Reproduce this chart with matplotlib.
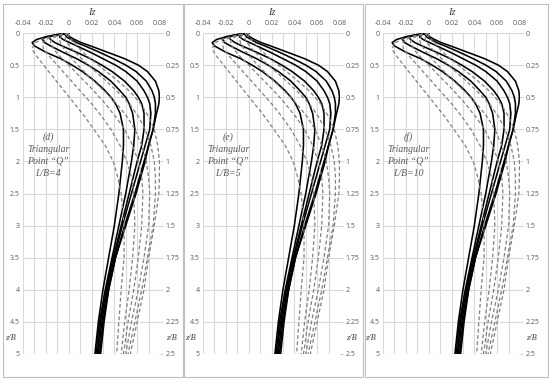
import matplotlib
matplotlib.use("Agg")
import matplotlib.pyplot as plt
from matplotlib.patches import Rectangle

# ---------------- data ----------------
x_ticks = [-0.04, -0.03, -0.02, -0.01, 0.0, 0.01, 0.02, 0.03, 0.04, 0.05, 0.06, 0.07, 0.08]
x_labels = ["-0.04", "", "-0.02", "", "0", "", "0.02", "", "0.04", "", "0.06", "", "0.08"]
zl_ticks = [0, 0.5, 1, 1.5, 2, 2.5, 3, 3.5, 4, 4.5, 5]
zl_labels = ["0", "0.5", "1", "1.5", "2", "2.5", "3", "3.5", "4", "4.5", "5"]
zr_ticks = [0, 0.25, 0.5, 0.75, 1, 1.25, 1.5, 1.75, 2, 2.25, 2.5]
zr_labels = ["0", "0.25", "0.5", "0.75", "1", "1.25", "1.5", "1.75", "2", "2.25", "2.5"]

# solid curves (left axis, z/B 0..5)
z_solid = [0, 0.03, 0.06, 0.1, 0.15, 0.2, 0.3, 0.4, 0.5, 0.6, 0.75, 0.9, 1.0, 1.1,
           1.25, 1.5, 1.75, 2.0, 2.5, 3.0, 3.5, 4.0, 4.5, 5.0]
S1 = [0, -0.010, -0.020, -0.028, -0.032, -0.030, -0.020, -0.007, 0.003, 0.012, 0.023, 0.032,
      0.037, 0.041, 0.045, 0.048, 0.048, 0.047, 0.044, 0.040, 0.035, 0.030, 0.026, 0.023]
S2 = [0, -0.012, -0.020, -0.023, -0.021, -0.016, -0.005, 0.007, 0.017, 0.026, 0.037, 0.045,
      0.050, 0.053, 0.056, 0.058, 0.057, 0.055, 0.050, 0.044, 0.038, 0.032, 0.027, 0.024]
S3 = [0, -0.012, -0.017, -0.016, -0.012, -0.006, 0.007, 0.019, 0.029, 0.038, 0.049, 0.057,
      0.061, 0.064, 0.066, 0.066, 0.064, 0.060, 0.053, 0.046, 0.039, 0.033, 0.028, 0.025]
S4 = [0, -0.007, -0.008, -0.005, 0.001, 0.007, 0.019, 0.030, 0.041, 0.050, 0.060, 0.066,
      0.069, 0.071, 0.072, 0.071, 0.067, 0.063, 0.055, 0.047, 0.040, 0.034, 0.029, 0.026]
S5 = [0, -0.003, -0.002, 0.002, 0.007, 0.014, 0.027, 0.039, 0.050, 0.059, 0.068, 0.073,
      0.075, 0.076, 0.076, 0.074, 0.070, 0.066, 0.058, 0.049, 0.041, 0.035, 0.030, 0.027]
S6 = [0, -0.001, 0.001, 0.005, 0.011, 0.019, 0.034, 0.049, 0.061, 0.069, 0.076, 0.079,
      0.0795, 0.079, 0.077, 0.074, 0.070, 0.067, 0.059, 0.050, 0.041, 0.035, 0.031, 0.028]

# dashed curves (right axis, z/B 0..2.5)
z_dash = [0, 0.02, 0.05, 0.08, 0.125, 0.17, 0.25, 0.35, 0.45, 0.55, 0.65, 0.75, 0.875,
          1.0, 1.125, 1.25, 1.5, 1.75, 2.0, 2.25, 2.5]
D1 = [0, -0.012, -0.024, -0.030, -0.032, -0.029, -0.022, -0.013, -0.004, 0.005, 0.014,
      0.022, 0.032, 0.039, 0.043, 0.046, 0.0485, 0.0485, 0.046, 0.044, 0.042]
D2 = [0, -0.011, -0.020, -0.023, -0.022, -0.018, -0.010, 0.000, 0.010, 0.020, 0.029,
      0.037, 0.045, 0.051, 0.055, 0.057, 0.058, 0.056, 0.053, 0.049, 0.046]
D3 = [0, -0.010, -0.015, -0.016, -0.013, -0.009, 0.000, 0.011, 0.022, 0.032, 0.041,
      0.049, 0.056, 0.061, 0.064, 0.065, 0.064, 0.061, 0.057, 0.052, 0.048]
D4 = [0, -0.006, -0.008, -0.007, -0.004, 0.000, 0.008, 0.019, 0.031, 0.042, 0.051,
      0.058, 0.064, 0.068, 0.070, 0.071, 0.070, 0.066, 0.061, 0.055, 0.050]
D5 = [0, -0.003, -0.003, -0.001, 0.003, 0.008, 0.017, 0.030, 0.042, 0.053, 0.061,
      0.067, 0.072, 0.075, 0.076, 0.076, 0.074, 0.069, 0.064, 0.058, 0.052]
D6 = [0, 0.000, 0.002, 0.005, 0.010, 0.015, 0.026, 0.040, 0.053, 0.063, 0.070,
      0.075, 0.078, 0.0795, 0.0795, 0.079, 0.075, 0.070, 0.066, 0.060, 0.054]

solid_curves = [S1, S2, S3, S4, S5, S6]
dash_curves = [D1, D2, D3, D4, D5, D6]

panel_letters = ["(d)", "(e)", "(f)"]
panel_lb = ["L/B=4", "L/B=5", "L/B=10"]

# ---------------- layout ----------------
W, H = 550, 381
fig = plt.figure(figsize=(W / 100, H / 100), dpi=100)
fig.patch.set_facecolor("white")

plot_left_px = [23, 203, 383]
plot_w_px = 137
plot_top_px, plot_bot_px = 33, 354
frames_px = [(3, 183), (184, 363), (365, 548)]
frame_top, frame_bot = 4, 377

tick_col = "#595959"
grid_col = "#d9d9d9"
sans = ["Open Sans", "DejaVu Sans"]
serif = ["Liberation Serif", "DejaVu Serif"]
tfs = 5.0

for (fx0, fx1) in frames_px:
    fig.patches.append(Rectangle((fx0 / W, 1 - frame_bot / H), (fx1 - fx0) / W,
                                 (frame_bot - frame_top) / H, transform=fig.transFigure,
                                 fill=False, edgecolor="#bfbfbf", linewidth=0.8))

for i, lp in enumerate(plot_left_px):
    ax = fig.add_axes([lp / W, 1 - plot_bot_px / H, plot_w_px / W,
                       (plot_bot_px - plot_top_px) / H])
    ax.set_xlim(-0.04, 0.08)
    ax.set_ylim(5, 0)
    ax.set_xticks(x_ticks)
    ax.set_xticklabels(x_labels, fontfamily=sans, fontsize=tfs, color=tick_col)
    ax.xaxis.tick_top()
    ax.tick_params(axis="x", length=0, pad=4.2)
    ax.set_yticks(zl_ticks)
    ax.set_yticklabels(zl_labels, fontfamily=sans, fontsize=tfs, color=tick_col)
    ax.tick_params(axis="y", length=0, pad=2.5)
    ax.grid(True, color=grid_col, linewidth=0.8)
    for s in ax.spines.values():
        s.set_visible(False)

    for c in solid_curves:
        ax.plot(c, z_solid, color="black", linewidth=1.15, solid_joinstyle="round", zorder=3)

    ax2 = ax.twinx()
    ax2.set_ylim(2.5, 0)
    ax2.set_yticks(zr_ticks)
    ax2.set_yticklabels(zr_labels, fontfamily=sans, fontsize=tfs, color=tick_col)
    ax2.tick_params(axis="y", length=2.2, color="#bfbfbf", width=0.6, pad=1.5)
    for s in ax2.spines.values():
        s.set_visible(False)
    for c in dash_curves:
        ax2.plot(c, z_dash, color="#808080", linewidth=0.9, dashes=(3, 2), zorder=2)

    ax.text(0.5, 1.064, "Iz", transform=ax.transAxes, ha="center", va="center",
            fontfamily=serif, fontstyle="italic", fontsize=7.5, color="#404040")
    ax.text(-0.095, 4.75, "z/B", transform=ax.get_yaxis_transform(), ha="center",
            va="center", fontfamily=serif, fontstyle="italic", fontsize=6, color="#404040")
    ax.text(1.085, 4.75, "z/B", transform=ax.get_yaxis_transform(), ha="center",
            va="center", fontfamily=serif, fontstyle="italic", fontsize=6, color="#404040")

    lines = [panel_letters[i], "Triangular", "Point \u201cQ\u201d", panel_lb[i]]
    for k, t in enumerate(lines):
        fig.text((lp + 25) / W, 1 - (137 + 12.2 * k) / H, t, ha="center", va="center",
                 fontfamily=serif, fontstyle="italic", fontsize=7, color="#595959")

fig.savefig("out.png", dpi=100, facecolor="white")
